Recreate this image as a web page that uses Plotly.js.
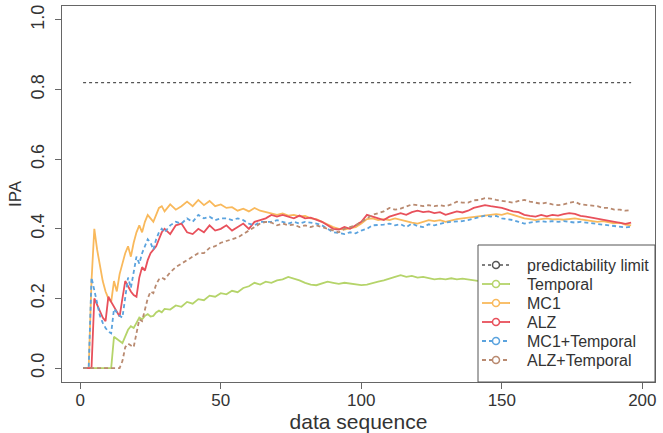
<!DOCTYPE html>
<html>
<head>
<meta charset="utf-8">
<script src="https://cdn.plot.ly/plotly-3.0.1.min.js"></script>
<style>html,body{margin:0;padding:0;background:#fff;}#chart{width:663px;height:433px;}</style>
</head>
<body>
<div id="chart"></div>
<script>
// x positions of the data sequence
var xs = [1,2,3,4,5,6,7,8,9,10,11,12,13,14,15,16,17,18,19,20,21,22,23,24,25,26,27,28,29,30,
  32,34,36,38,40,42,44,46,48,50,52,54,56,58,60,62,64,66,68,70,72,74,76,78,80,82,84,86,88,90,
  92,94,96,98,100,102,104,106,108,110,112,114,116,118,120,122,124,126,128,130,132,134,136,138,140,
  142,144,146,148,150,152,154,156,158,160,162,164,166,168,170,172,174,176,178,180,182,184,186,188,190,192,194,196];

var limitX = [1, 196];
var limitY = [0.82, 0.82];

var temporal = [0,0,0,0,0,0,0,0,0,0,0,0.09,0.085,0.078,0.072,0.09,0.11,0.12,0.115,0.13,0.145,0.14,0.15,0.155,0.148,0.15,0.16,0.165,0.16,0.17,
  0.168,0.18,0.176,0.19,0.185,0.198,0.195,0.208,0.205,0.215,0.212,0.222,0.218,0.23,0.235,0.245,0.24,0.248,0.245,0.252,0.255,0.262,0.258,0.252,0.245,0.24,0.238,0.242,0.248,0.245,
  0.242,0.245,0.243,0.24,0.238,0.24,0.243,0.248,0.252,0.258,0.262,0.267,0.262,0.265,0.26,0.262,0.258,0.255,0.257,0.255,0.258,0.255,0.257,0.254,0.253,
  0.25,0.248,0.25,0.252,0.25,0.252,0.25,0.248,0.25,0.252,0.25,0.248,0.25,0.252,0.25,0.248,0.25,0.252,0.25,0.248,0.25,0.25,0.248,0.25,0.248,0.25,0.248,0.25];

var mc1 = [0,0,0,0.25,0.40,0.34,0.29,0.25,0.22,0.20,0.19,0.25,0.22,0.27,0.30,0.33,0.35,0.32,0.36,0.39,0.41,0.39,0.42,0.44,0.43,0.42,0.44,0.46,0.465,0.45,
  0.47,0.455,0.465,0.478,0.465,0.483,0.468,0.48,0.465,0.47,0.46,0.462,0.452,0.458,0.45,0.46,0.452,0.448,0.445,0.44,0.444,0.438,0.44,0.436,0.437,0.43,0.428,0.42,0.412,0.405,
  0.40,0.398,0.402,0.405,0.415,0.428,0.43,0.425,0.428,0.425,0.43,0.426,0.42,0.418,0.415,0.42,0.425,0.422,0.425,0.42,0.425,0.428,0.43,0.432,0.435,
  0.437,0.44,0.44,0.442,0.44,0.445,0.44,0.435,0.43,0.428,0.425,0.428,0.43,0.427,0.428,0.426,0.428,0.43,0.427,0.425,0.422,0.42,0.422,0.418,0.416,0.418,0.412,0.41];

var alz = [0,0,0,0,0.20,0.18,0.16,0.145,0.135,0.205,0.19,0.175,0.16,0.148,0.20,0.25,0.235,0.22,0.21,0.205,0.26,0.29,0.28,0.31,0.33,0.34,0.35,0.37,0.39,0.40,
  0.385,0.41,0.415,0.39,0.385,0.40,0.39,0.41,0.395,0.40,0.41,0.395,0.405,0.415,0.40,0.42,0.425,0.43,0.44,0.435,0.44,0.435,0.43,0.438,0.43,0.432,0.425,0.42,0.41,0.40,
  0.398,0.405,0.40,0.41,0.42,0.44,0.435,0.43,0.425,0.435,0.44,0.445,0.44,0.448,0.452,0.448,0.45,0.445,0.448,0.44,0.445,0.45,0.447,0.452,0.46,
  0.465,0.468,0.465,0.463,0.46,0.455,0.45,0.448,0.44,0.437,0.435,0.44,0.436,0.44,0.438,0.442,0.445,0.443,0.437,0.435,0.432,0.43,0.425,0.422,0.42,0.416,0.414,0.418];

var mc1Temporal = [0,0,0,0.26,0.22,0.18,0.15,0.13,0.115,0.105,0.10,0.17,0.16,0.15,0.145,0.21,0.26,0.23,0.27,0.32,0.30,0.33,0.35,0.37,0.36,0.34,0.37,0.39,0.40,0.39,
  0.41,0.42,0.415,0.43,0.42,0.44,0.43,0.435,0.425,0.43,0.43,0.425,0.43,0.425,0.415,0.41,0.42,0.42,0.42,0.425,0.42,0.415,0.42,0.415,0.42,0.418,0.415,0.41,0.40,0.39,
  0.388,0.385,0.39,0.387,0.395,0.40,0.41,0.41,0.412,0.415,0.41,0.413,0.405,0.415,0.408,0.405,0.413,0.41,0.415,0.418,0.42,0.42,0.422,0.425,0.43,
  0.435,0.438,0.435,0.437,0.43,0.428,0.425,0.42,0.415,0.418,0.42,0.422,0.42,0.422,0.42,0.422,0.42,0.418,0.42,0.418,0.415,0.415,0.412,0.41,0.408,0.405,0.404,0.406];

var alzTemporal = [0,0,0,0,0,0,0,0,0,0,0,0,0,0,0.02,0.06,0.07,0.065,0.06,0.10,0.14,0.135,0.17,0.20,0.22,0.215,0.24,0.255,0.26,0.255,
  0.275,0.29,0.30,0.31,0.32,0.33,0.33,0.345,0.35,0.36,0.365,0.37,0.375,0.385,0.395,0.405,0.415,0.42,0.418,0.41,0.415,0.41,0.412,0.405,0.41,0.405,0.41,0.405,0.40,0.395,
  0.39,0.40,0.405,0.41,0.42,0.43,0.44,0.445,0.45,0.46,0.455,0.458,0.465,0.47,0.468,0.465,0.468,0.465,0.468,0.465,0.47,0.478,0.475,0.475,0.482,
  0.483,0.488,0.487,0.483,0.48,0.478,0.475,0.48,0.483,0.478,0.475,0.472,0.475,0.47,0.468,0.47,0.475,0.478,0.47,0.468,0.465,0.465,0.46,0.46,0.455,0.455,0.452,0.454];

var seriesNames = ["predictability limit","Temporal","MC1","ALZ","MC1+Temporal","ALZ+Temporal"];
var seriesColors = ["#555555","#b5d46a","#f9b95c","#e8505b","#5ba3de","#b98a70"];
var seriesDash = ["dot","solid","solid","solid","4px,3px","4px,3px"];

var xTickVals = [0,50,100,150,200];
var yTickVals = [0,0.2,0.4,0.6,0.8,1.0];
var yTickText = ["0.0","0.2","0.4","0.6","0.8","1.0"];

var ys = [null, temporal, mc1, alz, mc1Temporal, alzTemporal];
var traces = [];
traces.push({x: limitX, y: limitY, mode: "lines", showlegend: false, hoverinfo: "skip",
  line: {color: seriesColors[0], dash: seriesDash[0], width: 1.3}});
for (var i = 1; i < ys.length; i++) {
  traces.push({x: xs, y: ys[i], mode: "lines", showlegend: false,
    line: {color: seriesColors[i], dash: seriesDash[i], width: 1.8}});
}

// Plot area in pixels (for the drawn legend box)
var W = 663, H = 433, mL = 62, mR = 8, mT = 6, mB = 51;
var pw = W - mL - mR, ph = H - mT - mB;
function px(p) { return (p - mL) / pw; }
function py(p) { return (H - mB - p) / ph; }

var shapes = [];
var annotations = [];
shapes.push({type: "rect", xref: "paper", yref: "paper", layer: "above",
  x0: px(478), x1: px(655), y0: py(382), y1: py(245),
  fillcolor: "#fff", line: {color: "#555", width: 1}});
for (var k = 0; k < seriesNames.length; k++) {
  var cy = 265 + 19 * k;
  var col = seriesColors[k];
  shapes.push({type: "line", xref: "paper", yref: "paper", layer: "above",
    x0: px(482), x1: px(510), y0: py(cy), y1: py(cy),
    line: {color: col, width: k === 0 ? 1.3 : 1.8, dash: seriesDash[k]}});
  shapes.push({type: "circle", xref: "paper", yref: "paper", layer: "above",
    x0: px(492.5), x1: px(499.5), y0: py(cy + 3.5), y1: py(cy - 3.5),
    fillcolor: "#fff", line: {color: col, width: 1.5}});
  annotations.push({xref: "paper", yref: "paper", x: px(525), y: py(cy), xanchor: "left", yanchor: "middle",
    showarrow: false, text: seriesNames[k], font: {size: 16, color: "#333"}});
}

var fontFam = "Liberation Sans, Arial, sans-serif";
var layout = {
  width: W, height: H,
  margin: {l: mL, r: mR, t: mT, b: mB},
  paper_bgcolor: "#fff", plot_bgcolor: "#fff",
  font: {family: fontFam, color: "#333", size: 16},
  showlegend: false,
  shapes: shapes,
  annotations: annotations,
  xaxis: {
    range: [-6.5, 204.5], tickvals: xTickVals, ticks: "outside", ticklen: 6, tickcolor: "#666",
    ticklabelstandoff: -4,
    showline: true, mirror: true, linecolor: "#666", linewidth: 1.3, showgrid: false, zeroline: false,
    tickfont: {size: 17, color: "#333"},
    title: {text: "data sequence", font: {size: 21, color: "#333"}, standoff: 8}
  },
  yaxis: {
    range: [-0.04, 1.04], tickvals: yTickVals, ticktext: yTickText, ticks: "outside", ticklen: 6, tickcolor: "#666",
    tickangle: -90, ticklabelstandoff: 4,
    showline: true, mirror: true, linecolor: "#666", linewidth: 1.3, showgrid: false, zeroline: false,
    tickfont: {size: 18, color: "#333"},
    title: {text: "IPA", font: {size: 17, color: "#333"}, standoff: 1}
  }
};
Plotly.newPlot("chart", traces, layout, {displayModeBar: false, staticPlot: true});
</script>
</body>
</html>
